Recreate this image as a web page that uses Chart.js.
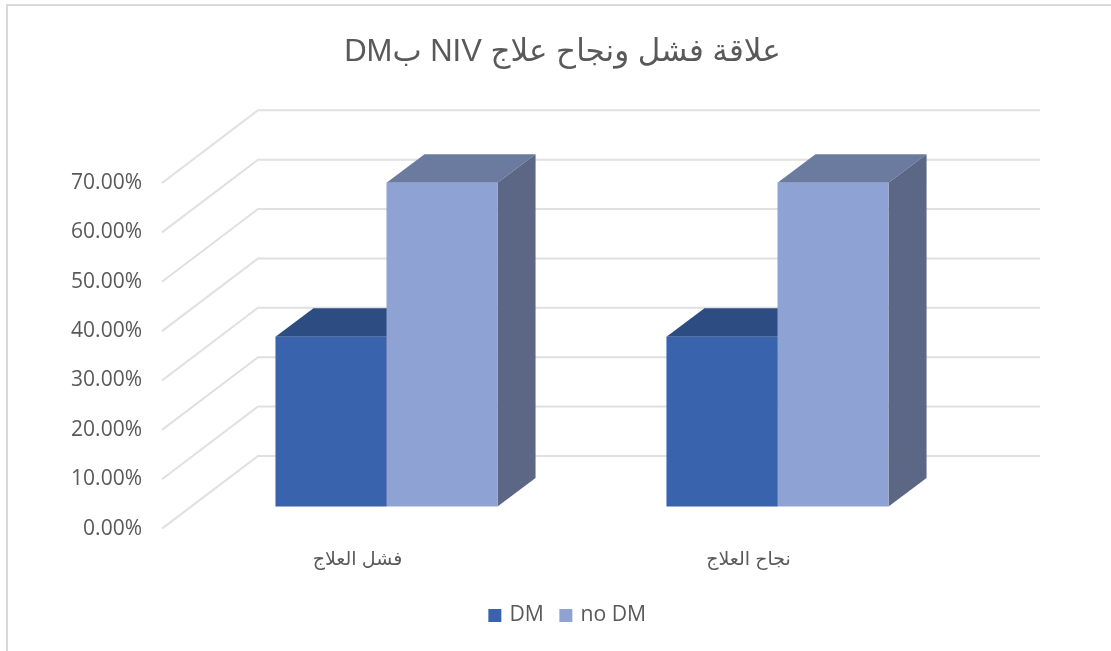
<!DOCTYPE html>
<html lang="ar">
<head>
<meta charset="utf-8">
<style>html,body{margin:0;padding:0;background:#fff}canvas{display:block}</style>
<script src="https://cdn.jsdelivr.net/npm/chart.js@4"></script>
</head>
<body>
<canvas id="c" width="1111" height="651"></canvas>
<script>
const chartTitle = "\u202Bعلاقة فشل ونجاح علاج NIV بDM\u202C";
const categories = ["فشل العلاج", "نجاح العلاج"];
const seriesNames = ["DM", "no DM"];
const dmValues = [34.4, 34.4];
const noDmValues = [65.6, 65.6];
const yMax = 70;
const yStep = 10;

const frontColors = ["#3A63AD", "#8FA2D4"];
const topColors = ["#2C4C82", "#6B7A9F"];
const sideColors = ["#2A4A7D", "#5B6785"];
const gridColor = "#E0E0E0";
const textColor = "#595959";
const latinFont = "'Open Sans', 'DejaVu Sans', sans-serif";
const arabicFont = "'Liberation Sans', 'DejaVu Sans', sans-serif";

const wallDX = 96, wallDY = 72.7;   // depth of the back wall
const barDX = 38, barDY = 28.5;     // depth of a bar
const barShiftX = 29, barShiftY = -22; // bars stand part-way into the floor
const legendShiftX = 6;

const threeD = {
  id: "threeD",
  afterLayout(chart) {
    chart.legend.left += legendShiftX;
    chart.legend.right += legendShiftX;
  },
  beforeDraw(chart) {
    const ctx = chart.ctx;
    ctx.save();
    ctx.strokeStyle = "#D9D9D9";
    ctx.lineWidth = 2;
    ctx.beginPath();
    ctx.moveTo(7, 651); ctx.lineTo(7, 5); ctx.lineTo(1111, 5);
    ctx.stroke();
    ctx.restore();
  },
  beforeDatasetsDraw(chart) {
    const ctx = chart.ctx, ys = chart.scales.y, a = chart.chartArea;
    ctx.save();
    ctx.strokeStyle = gridColor;
    ctx.lineWidth = 2;
    ys.ticks.forEach(t => {
      const y = ys.getPixelForValue(t.value);
      ctx.beginPath();
      ctx.moveTo(a.left, y);
      ctx.lineTo(a.left + wallDX, y - wallDY);
      ctx.lineTo(a.right + wallDX, y - wallDY);
      ctx.stroke();
    });
    ctx.restore();
    ctx.save();
    ctx.translate(barShiftX, barShiftY);
    chart.data.datasets.forEach((ds, i) => {
      chart.getDatasetMeta(i).data.forEach(b => {
        const L = b.x - b.width / 2, R = b.x + b.width / 2, T = b.y, B = b.base;
        ctx.fillStyle = topColors[i];
        ctx.beginPath();
        ctx.moveTo(L, T); ctx.lineTo(L + barDX, T - barDY);
        ctx.lineTo(R + barDX, T - barDY); ctx.lineTo(R, T);
        ctx.closePath(); ctx.fill();
        ctx.fillStyle = sideColors[i];
        ctx.beginPath();
        ctx.moveTo(R, T); ctx.lineTo(R + barDX, T - barDY);
        ctx.lineTo(R + barDX, B - barDY); ctx.lineTo(R, B);
        ctx.closePath(); ctx.fill();
      });
    });
  },
  afterDatasetsDraw(chart) {
    chart.ctx.restore();
  }
};

new Chart(document.getElementById("c"), {
  type: "bar",
  plugins: [threeD],
  data: {
    labels: categories,
    datasets: [
      { label: seriesNames[0], data: dmValues, backgroundColor: frontColors[0], clip: false },
      { label: seriesNames[1], data: noDmValues, backgroundColor: frontColors[1], clip: false }
    ]
  },
  options: {
    responsive: false,
    animation: false,
    devicePixelRatio: 1,
    layout: { padding: { left: 14, right: 0, top: 0, bottom: 15 } },
    datasets: { bar: { categoryPercentage: 0.568, barPercentage: 1 } },
    scales: {
      x: {
        grid: { display: false },
        border: { display: false },
        ticks: { color: textColor, font: { family: arabicFont, size: 19 }, padding: 12, maxRotation: 0 },
        afterFit(s) { s.height = 58.2; }
      },
      y: {
        min: 0, max: yMax,
        grid: { display: false },
        border: { display: false },
        ticks: {
          stepSize: yStep, color: textColor, padding: 12,
          font: { family: latinFont, size: 21 },
          callback: v => v.toFixed(2) + "%"
        },
        afterFit(s) { s.width = 148; }
      },
      y2: {
        position: "right",
        display: true,
        grid: { display: false },
        border: { display: false },
        ticks: { display: false },
        afterFit(s) { s.width = 167; }
      }
    },
    plugins: {
      tooltip: { enabled: false },
      title: {
        display: true,
        text: chartTitle,
        color: textColor,
        font: { family: arabicFont, size: 31, weight: "normal" },
        padding: { top: 33.4, bottom: 112.4 }
      },
      legend: {
        position: "bottom",
        labels: {
          color: textColor,
          font: { family: latinFont, size: 21.2 },
          usePointStyle: true, pointStyle: "rect",
          boxWidth: 8, boxHeight: 13, padding: 18
        }
      }
    }
  }
});
</script>
</body>
</html>
